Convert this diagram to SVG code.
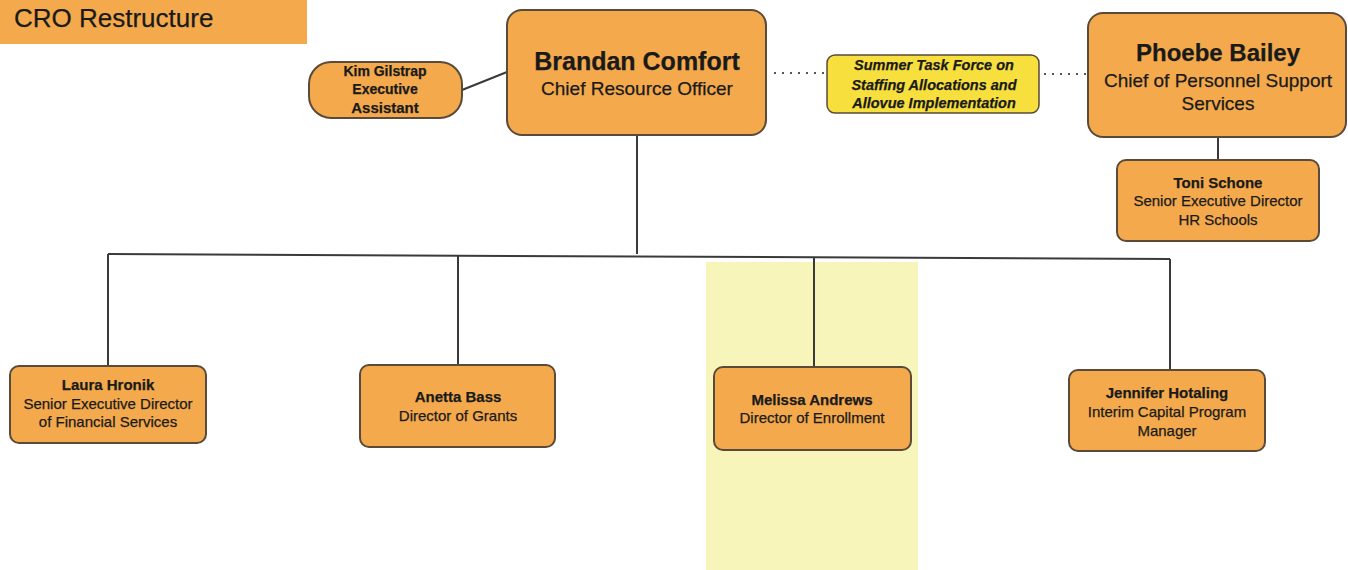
<svg xmlns="http://www.w3.org/2000/svg" width="1348" height="570" viewBox="0 0 1348 570">
  <style>
    .box { fill: #f4aa4c; stroke: #5a4a3a; stroke-width: 2; }
    .task { fill: #f7df3e; stroke: #5a4a3a; stroke-width: 1.5; }
    .ln { stroke: #3a3a3a; stroke-width: 2; fill: none; }
    .dot { stroke: #555; stroke-width: 2; stroke-dasharray: 2 6; fill: none; }
    text { font-family: "Liberation Sans", Arial, sans-serif; fill: #1a1a1a; text-anchor: middle; stroke: #1a1a1a; stroke-width: 0.25; }
    .b { font-weight: bold; }
    .sm { font-size: 15px; }
  </style>

  <!-- highlight band behind the enrollment column -->
  <rect x="706" y="262" width="212" height="308" fill="#f8f5bb"/>

  <!-- title -->
  <g id="title">
    <rect x="0" y="0" width="307" height="44" fill="#f4aa4c"/>
    <text x="14" y="27" font-size="26" style="text-anchor:start">CRO Restructure</text>
  </g>

  <g id="connectors">
    <line class="ln" x1="462" y1="90" x2="507" y2="72"/>
    <line class="dot" x1="774" y1="73" x2="826" y2="73"/>
    <line class="dot" x1="1044" y1="74" x2="1087" y2="74"/>
    <line class="ln" x1="1218" y1="137" x2="1218" y2="160"/>
    <line class="ln" x1="637" y1="135" x2="637" y2="254"/>
    <line class="ln" x1="108" y1="254" x2="1170" y2="259"/>
    <line class="ln" x1="108" y1="254" x2="108" y2="367"/>
    <line class="ln" x1="458" y1="255" x2="458" y2="366"/>
    <line class="ln" x1="814" y1="257" x2="814" y2="368"/>
    <line class="ln" x1="1170" y1="259" x2="1170" y2="371"/>
  </g>

  <g id="brandan">
    <rect class="box" x="507" y="10" width="259" height="125" rx="15"/>
    <text x="637" y="70" font-size="25" class="b">Brandan Comfort</text>
    <text x="637" y="95" font-size="19">Chief Resource Officer</text>
  </g>

  <g id="kim">
    <rect class="box" x="309" y="62" width="153" height="56" rx="22"/>
    <text x="385" y="76" class="b" font-size="14">Kim Gilstrap</text>
    <text x="385" y="94" class="b" font-size="14">Executive</text>
    <text x="385" y="113" class="b" font-size="15">Assistant</text>
  </g>

  <g id="taskforce">
    <rect class="task" x="827" y="55" width="212" height="58" rx="8"/>
    <text x="934" y="70" font-size="14.5" class="b" font-style="italic">Summer Task Force  on</text>
    <text x="934" y="90" font-size="14.5" class="b" font-style="italic">Staffing Allocations and</text>
    <text x="934" y="108" font-size="14.5" class="b" font-style="italic">Allovue Implementation</text>
  </g>

  <g id="phoebe">
    <rect class="box" x="1088" y="13" width="258" height="124" rx="15"/>
    <text x="1218" y="61" font-size="24" class="b">Phoebe Bailey</text>
    <text x="1218" y="87" font-size="19">Chief of Personnel Support</text>
    <text x="1218" y="110" font-size="19">Services</text>
  </g>

  <g id="toni">
    <rect class="box" x="1117" y="160" width="202" height="81" rx="9"/>
    <text x="1218" y="188" class="b sm">Toni Schone</text>
    <text x="1218" y="206" class="sm">Senior Executive  Director</text>
    <text x="1218" y="225" class="sm">HR Schools</text>
  </g>

  <g id="laura">
    <rect class="box" x="10" y="366" width="196" height="77" rx="9"/>
    <text x="108" y="390" class="b sm">Laura Hronik</text>
    <text x="108" y="409" class="sm">Senior Executive Director</text>
    <text x="108" y="427" class="sm">of Financial Services</text>
  </g>

  <g id="anetta">
    <rect class="box" x="360" y="365" width="195" height="82" rx="9"/>
    <text x="458" y="402" class="b sm">Anetta Bass</text>
    <text x="458" y="421" class="sm">Director of Grants</text>
  </g>

  <g id="melissa">
    <rect class="box" x="714" y="367" width="197" height="83" rx="9"/>
    <text x="812" y="405" class="b sm">Melissa Andrews</text>
    <text x="812" y="423" class="sm">Director of Enrollment</text>
  </g>

  <g id="jennifer">
    <rect class="box" x="1069" y="370" width="196" height="81" rx="9"/>
    <text x="1167" y="398" class="b sm">Jennifer Hotaling</text>
    <text x="1167" y="417" class="sm">Interim Capital Program</text>
    <text x="1167" y="436" class="sm">Manager</text>
  </g>
</svg>
